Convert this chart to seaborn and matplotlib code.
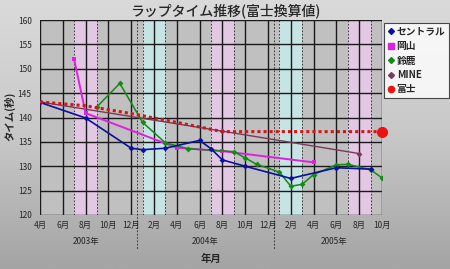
import numpy as np
import pandas as pd
import seaborn as sns
import matplotlib.pyplot as plt
from matplotlib.lines import Line2D
import matplotlib.transforms as mtransforms

# month index: 0 = 2003年4月 ... 30 = 2005年10月
tick_pos = list(range(0, 31, 2))
tick_labels = ['4月', '6月', '8月', '10月', '12月', '2月', '4月', '6月',
               '8月', '10月', '12月', '2月', '4月', '6月', '8月', '10月']
years = ['2003年', '2004年', '2005年']
year_centers = [4, 14.5, 25.75]
year_breaks = [8.5, 20.5]

central_m = [0, 4, 8, 9, 11, 14, 15, 16, 18, 22, 26, 29]
central_t = [143.1, 139.9, 133.7, 133.4, 133.7, 135.3, 133.6, 131.3, 130.0, 127.5, 129.7, 129.4]

okayama_m = [3, 4, 12, 16, 24]
okayama_t = [151.9, 140.9, 133.8, 133.1, 130.8]

suzuka_m = [5, 7, 9, 11, 13, 17, 18, 19, 21, 22, 23, 24, 26, 27, 29, 30]
suzuka_t = [142.2, 147.0, 139.0, 134.8, 133.6, 133.0, 131.7, 130.4, 128.8, 125.9,
            126.3, 128.3, 130.3, 130.4, 129.3, 127.6]

mine_m = [0, 16, 28]
mine_t = [143.2, 137.2, 132.6]

fuji_m = [0, 4, 8, 12, 16, 30]
fuji_t = [143.2, 142.4, 140.8, 139.0, 137.1, 137.1]

# summer / winter bands (start, end, colour)
bands = [(3, 5, '#e2c8e2'), (9, 11, '#c6e4e4'), (15, 17, '#e2c8e2'),
         (21, 23, '#c6e4e4'), (27, 29, '#e2c8e2')]

sns.set_style('white')
plt.rcParams['font.family'] = ['Noto Sans CJK JP', 'DejaVu Sans']

fig = plt.figure(figsize=(4.5, 2.69), dpi=100)

# gradient background
bg = fig.add_axes([0, 0, 1, 1], zorder=-10)
grad = np.linspace(0, 1, 256).reshape(-1, 1)
bg.imshow(grad, aspect='auto', cmap=plt.cm.colors.LinearSegmentedColormap.from_list(
    'g', ['#dadada', '#c8c8c8', '#a4a4a4']), extent=[0, 1, 0, 1])
bg.axis('off')

ax = fig.add_axes([40/450, 1-215/269, 342/450, 195/269])
ax.set_facecolor('#c0c0c0')

for a, b, c in bands:
    ax.axvspan(a, b, facecolor=c, edgecolor='none', zorder=0)
    for xx in (a, (a+b)/2, b):
        ax.axvline(xx, color='#202020', lw=0.6, ls=(0, (2, 2)), zorder=1)

for xx in tick_pos:
    ax.axvline(xx, color='#1a1a1a', lw=1.0, zorder=1)
for yy in range(120, 161, 5):
    ax.axhline(yy, color='#1a1a1a', lw=1.0, zorder=1)

trans = mtransforms.blended_transform_factory(ax.transData, ax.transAxes)
for xb in year_breaks:
    ax.plot([xb, xb], [1, -0.18], transform=trans, color='#202020', lw=0.6,
            ls=(0, (2, 2)), clip_on=False, zorder=1)

sns.lineplot(x=fuji_m, y=fuji_t, ax=ax, color='#d41515', lw=2.2,
             linestyle=(0, (1, 1)), zorder=4)
ax.plot(fuji_m[-1], fuji_t[-1], 'o', color='#ee1111', ms=7, zorder=6, clip_on=False)
sns.lineplot(x=mine_m, y=mine_t, ax=ax, color='#7a3a5a', lw=1.0, marker='D',
             markersize=3, markeredgewidth=0, zorder=3)
sns.lineplot(x=okayama_m, y=okayama_t, ax=ax, color='#e020e0', lw=1.4, marker='s',
             markersize=3.5, markeredgewidth=0, zorder=3)
sns.lineplot(x=suzuka_m, y=suzuka_t, ax=ax, color='#138a13', lw=1.1, marker='D',
             markersize=3, markeredgewidth=0, zorder=3)
sns.lineplot(x=central_m, y=central_t, ax=ax, color='#0a10a0', lw=1.2, marker='D',
             markersize=3, markeredgewidth=0, zorder=3)

ax.set_xlim(0, 30)
ax.set_ylim(120, 160)
ax.set_xticks(tick_pos)
ax.set_xticklabels(tick_labels, fontsize=6)
ax.set_yticks(range(120, 161, 5))
ax.tick_params(axis='y', labelsize=6, length=0, pad=6)
ax.tick_params(axis='x', length=0, pad=4)
for s in ax.spines.values():
    s.set_visible(False)

for yr, xc in zip(years, year_centers):
    ax.text(xc, -0.135, yr, transform=trans, ha='center', va='center', fontsize=6)

ax.set_xlabel('')
ax.set_ylabel('')
fig.text(211/450, 1-259/269, '年月', ha='center', va='center', fontsize=7.5, fontweight='bold')
fig.text(10/450, 1-116/269, 'タイム(秒)', ha='center', va='center', rotation=90,
         fontsize=7.5, fontweight='bold')
fig.text(0.5, 1-11/269, 'ラップタイム推移(富士換算値)', ha='center', va='center',
         fontsize=10, fontweight='medium')

handles = [
    Line2D([], [], ls='none', marker='D', color='#0a10a0', ms=3),
    Line2D([], [], ls='none', marker='s', color='#e020e0', ms=4),
    Line2D([], [], ls='none', marker='D', color='#138a13', ms=3),
    Line2D([], [], ls='none', marker='D', color='#7a3a5a', ms=3),
    Line2D([], [], ls='none', marker='o', color='#ee1111', ms=4.5),
]
names = ['セントラル', '岡山', '鈴鹿', 'MINE', '富士']
leg = fig.legend(handles, names, loc='upper left', bbox_to_anchor=(384/450, 1-23/269),
                 frameon=True, fancybox=False, prop={'size': 7, 'weight': 'bold'},
                 handlelength=0.6, handletextpad=0.3, labelspacing=0.45,
                 borderpad=0.4, borderaxespad=0)
leg.get_frame().set_edgecolor('#202020')
leg.get_frame().set_linewidth(0.8)
leg.get_frame().set_facecolor('white')

fig.savefig('out.png', dpi=100)
